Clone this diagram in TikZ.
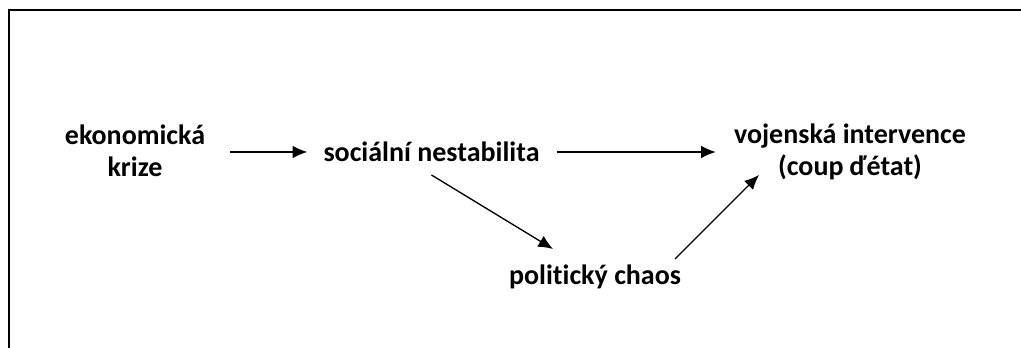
\documentclass[tikz,border=0pt]{standalone}
\usepackage{fontspec}
\setmainfont{Carlito}[Ligatures=NoCommon]
\usetikzlibrary{arrows.meta, positioning}
\tikzstyle{term} = [font=\fontsize{21}{24}\selectfont\bfseries, align=center, inner sep=0pt]
\tikzstyle{arrow} = [line width=1pt,-{Latex[length=11pt, width=9.5pt]}]
\tikzstyle{frame} = [line width=1.5pt]

\begin{document}
\begin{tikzpicture}[x=0.75pt, y=0.75pt]
                \useasboundingbox (0,0) rectangle (1021,348);
                \draw [frame] (8.5,0) -- (8.5,337.5) -- (1021,337.5);

                \node (econ) [term] at (135,197) {ekonomická\\krize};
                \node (social) [term] at (431.5,196) {sociální nestabilita};
                \node (mil) [term] at (850,196.5) {vojenská intervence\\(coup ďétat)};
                \node (chaos) [term] at (595,71) {politický chaos};

                \draw [arrow, shorten <=18.75pt, shorten >=12pt] (econ.east |- social.west) -- (social.west);
                \draw [arrow, shorten <=12.75pt, shorten >=13.5pt] (social.east) -- (social.east -| mil.west);
                \draw [arrow] ([yshift=-17.25pt]social.center) -- ([xshift=-31.5pt, yshift=21pt]chaos.center);
                \draw [arrow] ([xshift=60pt, yshift=13.5pt]chaos.center) -- ([xshift=-68.25pt, yshift=-17.6pt]mil.center);
\end{tikzpicture}
\end{document}
